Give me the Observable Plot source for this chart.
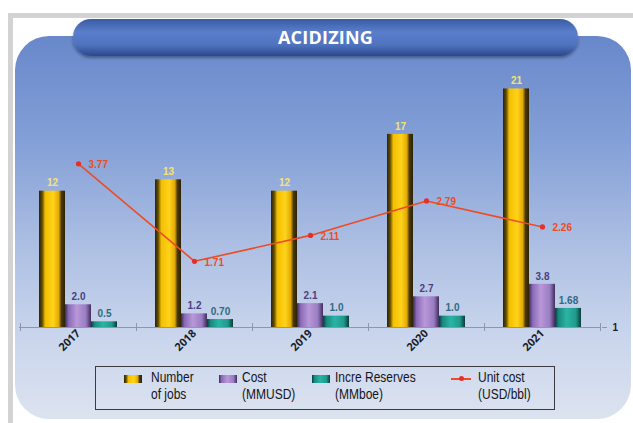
<!DOCTYPE html>
<html><head><meta charset="utf-8">
<script src="https://cdn.jsdelivr.net/npm/d3@7"></script>
<script src="https://cdn.jsdelivr.net/npm/@observablehq/plot@0.6"></script>
<style>
body{margin:0;background:#fff;}
#wrap{position:relative;width:633px;height:423px;overflow:hidden;}
.frameTop{position:absolute;left:8px;top:13px;width:625px;height:5px;background:#d3d3d3;}
.frameLeft{position:absolute;left:8px;top:13px;width:5px;height:410px;background:#d3d3d3;}
.panel{position:absolute;left:15px;top:36px;width:616px;height:383px;border-radius:34px;
  background:linear-gradient(#6888ca 0%,#84a0d7 28%,#adbfe3 55%,#c9d5ec 78%,#dce3f0 100%);}
.banner{position:absolute;left:73px;top:19px;width:505px;height:37px;border-radius:18px;
  background:linear-gradient(#3a5ba4 0%,#5a7ecb 35%,#4f73bf 70%,#2a488c 100%);
  box-shadow:0 2px 3px rgba(0,0,0,.35);color:#fff;font:bold 18px "Open Sans",sans-serif;
  text-align:center;line-height:37px;letter-spacing:0.2px;}
#chart{position:absolute;left:0;top:0;}
.legend{position:absolute;left:95px;top:366px;width:458px;height:42px;border:1.5px solid #3a3a40;
  font-family:"Liberation Sans",Arial,sans-serif;font-size:15px;color:#15151a;}
.legend .sw{position:absolute;top:8px;width:18px;height:8px;}
.legend .tx{position:absolute;top:1px;line-height:17px;white-space:nowrap;transform:scaleX(0.8);transform-origin:0 0;}
</style>
</head><body>
<div id="wrap">
  <div class="frameTop"></div><div class="frameLeft"></div>
  <div class="panel"></div>
  <div class="banner">ACIDIZING</div>
  <div id="chart"></div>
  <div class="legend" id="legend"></div>
</div>
<script>
const years = ["2017","2018","2019","2020","2021"];
const jobs = [12, 13, 12, 17, 21];
const cost = [2.0, 1.2, 2.1, 2.7, 3.8];
const costLabels = ["2.0","1.2","2.1","2.7","3.8"];
const reserves = [0.5, 0.70, 1.0, 1.0, 1.68];
const reserveLabels = ["0.5","0.70","1.0","1.0","1.68"];
const unitCost = [3.77, 1.71, 2.11, 2.79, 2.26];
const unitLabels = ["3.77","1.71","2.11","2.79","2.26"];
const rightTicks = [1];
const legendItems = [
  {name:["Number","of jobs"], kind:"jobs"},
  {name:["Cost","(MMUSD)"], kind:"cost"},
  {name:["Incre Reserves","(MMboe)"], kind:"res"},
  {name:["Unit cost","(USD/bbl)"], kind:"unit"}
];

const rows = years.map((y,i)=>({year:y, jobs:jobs[i], cost:cost[i], costL:costLabels[i],
  res:reserves[i], resL:reserveLabels[i], unit:unitCost[i], unitL:unitLabels[i]}));

// secondary axis: log scale 1..10 mapped onto the primary 0..25 range
const yMax = 25;
const sec = v => yMax * Math.log10(v);

const numFont = "Liberation Sans";
const svg = Plot.plot({
  width: 633, height: 423,
  marginLeft: 19, marginRight: 32, marginTop: 43, marginBottom: 96,
  style: {background: "transparent", fontFamily: numFont, fontSize: "10px", overflow: "visible"},
  x: {type: "band", domain: years, paddingInner: 0.33, paddingOuter: 0.165, label: null},
  y: {domain: [0, yMax], label: null},
  marks: [
    Plot.ruleY([0], {stroke: "#8a97ae", strokeWidth: 1}),
    Plot.ruleX(years, {x: d => d, dx: -58, y1: -0.35, y2: 0.35, stroke: "#8a97ae"}),
    Plot.ruleX(years.slice(-1), {x: d => d, dx: 58, y1: -0.35, y2: 0.35, stroke: "#8a97ae"}),
    Plot.barY(rows, {x: "year", y: "jobs", fill: "url(#gJobs)", insetRight: 52}),
    Plot.barY(rows, {x: "year", y: "cost", fill: "url(#gCost)", insetLeft: 26, insetRight: 26}),
    Plot.barY(rows, {x: "year", y: "res", fill: "url(#gRes)", insetLeft: 52}),
    Plot.text(rows, {x: "year", y: "jobs", text: d => String(d.jobs), dx: -26, dy: -8,
      fill: "#f2e56c", fontWeight: "bold", fontSize: 10}),
    Plot.text(rows, {x: "year", y: "cost", text: "costL", dx: 0, dy: -8,
      fill: "#4b3f7e", fontWeight: "bold", fontSize: 10}),
    Plot.text(rows, {x: "year", y: "res", text: "resL", dx: 26, dy: -8,
      fill: "#2f6a80", fontWeight: "bold", fontSize: 10}),
    Plot.lineY(rows, {x: "year", y: d => sec(d.unit), stroke: "#ee4b25", strokeWidth: 1.6}),
    Plot.dot(rows, {x: "year", y: d => sec(d.unit), r: 2.6, fill: "#e4302a", stroke: "none"}),
    Plot.text(rows, {x: "year", y: d => sec(d.unit), text: "unitL", dx: 10, dy: 1, textAnchor: "start",
      fill: "#ee4b25", fontWeight: "bold", fontSize: 10}),
    Plot.axisX({tickRotate: -45, tickSize: 0, tickPadding: 4, fontWeight: "bold", fontSize: 11,
      fill: "#1d1d2a", fontFamily: "Open Sans"}),
    Plot.axisY({anchor: "right", ticks: rightTicks.map(sec), tickFormat: d => String(Math.round(Math.pow(10, d / yMax))),
      tickSize: 5, tickPadding: 6, stroke: "#8a97ae", fill: "#1d1d2a", fontWeight: "bold", fontSize: 10, label: null})
  ]
});

const defs = d3.select(svg).insert("defs", ":first-child");
function grad(id, stops){
  const g = defs.append("linearGradient").attr("id", id).attr("x1","0").attr("x2","1").attr("y1","0").attr("y2","0");
  stops.forEach(([o,c]) => g.append("stop").attr("offset", o).attr("stop-color", c));
}
const jobsStops = [[0,"#2d2408"],[0.12,"#5e4b06"],[0.24,"#f4bf00"],[0.55,"#ffd21c"],[0.76,"#e2aa00"],[0.86,"#4a3a06"],[1,"#2a2208"]];
const costStops = [[0,"#3a2a55"],[0.14,"#8a6ab8"],[0.45,"#b898d8"],[0.8,"#9a7cc4"],[1,"#3e2e5a"]];
const resStops = [[0,"#0c3a3c"],[0.14,"#1a8a80"],[0.45,"#2ab4a4"],[0.8,"#1f9a8c"],[1,"#0c3a3c"]];
grad("gJobs", jobsStops); grad("gCost", costStops); grad("gRes", resStops);
document.getElementById("chart").appendChild(svg);

// legend
const css = s => "linear-gradient(to right," + s.map(([o,c]) => c + " " + (o*100) + "%").join(",") + ")";
const leg = document.getElementById("legend");
const swX = [28, 123, 216, 355], txX = [55, 146, 239, 382];
legendItems.forEach((it, i) => {
  if (it.kind === "unit") {
    const s = document.createElement("div");
    s.style.cssText = "position:absolute;left:"+swX[i]+"px;top:11px;width:20px;height:1.6px;background:#ee4b25;";
    const d = document.createElement("div");
    d.style.cssText = "position:absolute;left:"+(swX[i]+7.5)+"px;top:9.3px;width:5px;height:5px;border-radius:50%;background:#e4302a;";
    leg.appendChild(s); leg.appendChild(d);
  } else {
    const s = document.createElement("div");
    s.className = "sw";
    s.style.left = swX[i] + "px";
    s.style.background = css(it.kind === "jobs" ? jobsStops : it.kind === "cost" ? costStops : resStops);
    leg.appendChild(s);
  }
  const t = document.createElement("div");
  t.className = "tx";
  t.style.left = txX[i] + "px";
  t.innerHTML = it.name[0] + "<br>" + it.name[1];
  leg.appendChild(t);
});
</script>
</body></html>
